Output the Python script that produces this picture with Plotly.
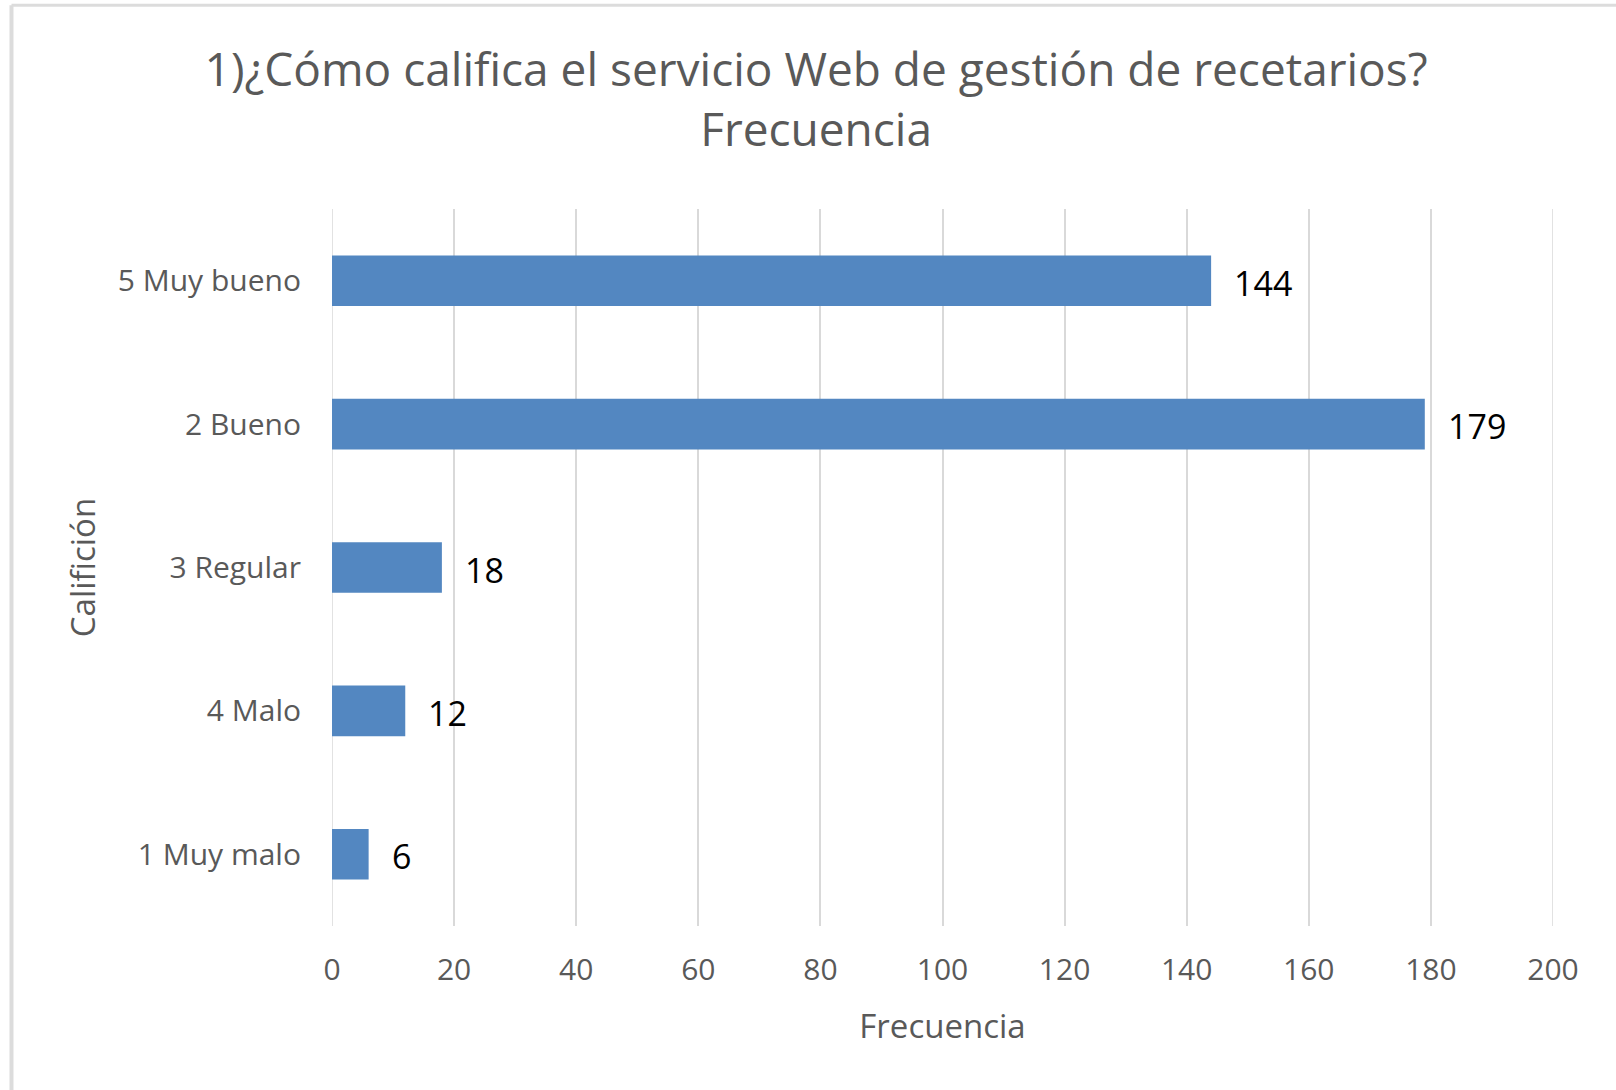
import plotly.graph_objects as go

categorias = ["5 Muy bueno", "2 Bueno", "3 Regular", "4 Malo", "1 Muy malo"]
frecuencias = [144, 179, 18, 12, 6]
ticks_x = [0, 20, 40, 60, 80, 100, 120, 140, 160, 180, 200]

BAR_COLOR = "#5387C1"
GRAY_TEXT = "#595959"
GRID = "#D9D9D9"
FONT = "Open Sans"

fig = go.Figure(go.Bar(
    x=frecuencias,
    y=categorias,
    orientation="h",
    marker=dict(color=BAR_COLOR, line=dict(width=0)),
    hoverinfo="x+y",
))

# etiquetas de valor a la derecha de cada barra
for cat, val in zip(categorias, frecuencias):
    fig.add_annotation(
        x=val, y=cat, text=str(val),
        xanchor="left", yanchor="middle",
        xshift=21, yshift=-2, showarrow=False,
        font=dict(family=FONT, size=34, color="#000000"),
    )

# plotly no dibuja la rejilla en los extremos del rango
for xv in (ticks_x[0], ticks_x[-1]):
    fig.add_shape(type="line", xref="x", yref="paper",
                  x0=xv, x1=xv, y0=0, y1=1, layer="below",
                  line=dict(color=GRID, width=1.5))

# marco del gráfico (bordes izquierdo y superior)
fig.add_shape(type="line", xref="paper", yref="paper",
              x0=-0.2625, x1=-0.2625, y0=-0.25, y1=1.284,
              line=dict(color="#DCDCDC", width=4))
fig.add_shape(type="line", xref="paper", yref="paper",
              x0=-0.2625, x1=1.1, y0=1.284, y1=1.284,
              line=dict(color="#DCDCDC", width=3))

fig.update_layout(
    width=1616,
    height=1090,
    margin=dict(l=332, r=63, t=209, b=164),
    paper_bgcolor="white",
    plot_bgcolor="white",
    font=dict(family=FONT, color=GRAY_TEXT),
    title=dict(
        text="1)¿Cómo califica el servicio Web de gestión de recetarios?<br>Frecuencia",
        x=0.505, xanchor="center", y=0.921, yanchor="top",
        font=dict(family=FONT, size=46, color=GRAY_TEXT),
    ),
    bargap=0.647,
    showlegend=False,
    xaxis=dict(
        range=[0, 200],
        tickvals=ticks_x,
        showgrid=True, gridcolor=GRID, gridwidth=1.5,
        zeroline=False, showline=False,
        ticks="", ticklabelstandoff=23,
        tickfont=dict(family=FONT, size=30, color=GRAY_TEXT),
        title=dict(text="Frecuencia", standoff=26,
                   font=dict(family=FONT, size=33, color=GRAY_TEXT)),
        fixedrange=True,
    ),
    yaxis=dict(
        categoryorder="array", categoryarray=categorias,
        autorange="reversed",
        showgrid=False, zeroline=False, showline=False,
        ticks="", ticklabelstandoff=30,
        tickfont=dict(family=FONT, size=30, color=GRAY_TEXT),
        title=dict(text="Califición", standoff=12,
                   font=dict(family=FONT, size=33, color=GRAY_TEXT)),
        fixedrange=True,
    ),
)

fig.write_html("out.html", config={"displayModeBar": False},
               post_script="document.body.style.margin='0px';")
